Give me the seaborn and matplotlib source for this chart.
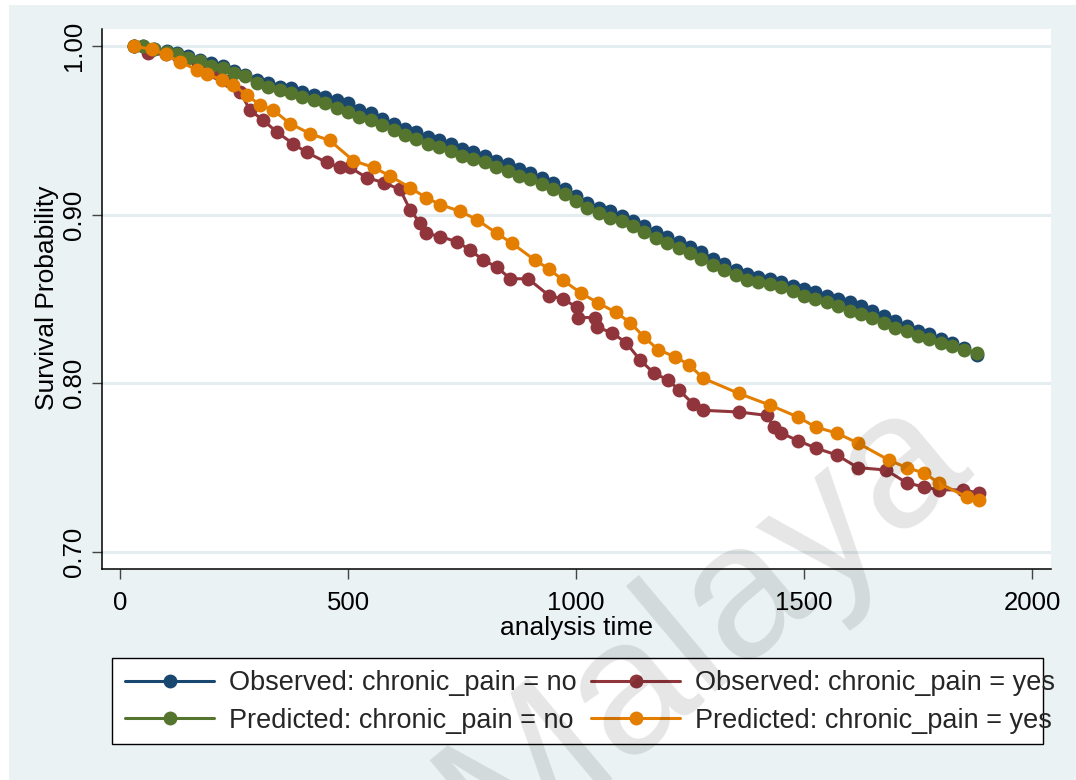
import numpy as np
import pandas as pd
import matplotlib
matplotlib.use("Agg")
import matplotlib.pyplot as plt
from matplotlib.lines import Line2D
from matplotlib.patches import Rectangle
import seaborn as sns

# ---------------- data ----------------
t_no = [30, 50, 75, 103, 125, 150, 175, 200, 225, 250, 275, 300, 325, 350, 375,
        400, 425, 450, 475, 500, 525, 550, 575, 600, 625, 650, 675, 700, 725, 750,
        775, 800, 825, 850, 875, 900, 925, 950, 975, 1000, 1025, 1050, 1075, 1100,
        1125, 1150, 1175, 1200, 1225, 1250, 1275, 1300, 1325, 1350, 1375, 1400,
        1425, 1450, 1475, 1500, 1525, 1550, 1575, 1600, 1625, 1650, 1675, 1700,
        1725, 1750, 1775, 1800, 1825, 1850, 1879]
obs_no = [1.000, 1.000, 0.998, 0.997, 0.996, 0.994, 0.992, 0.990, 0.988, 0.985,
          0.983, 0.980, 0.978, 0.976, 0.975, 0.973, 0.971, 0.970, 0.968, 0.966,
          0.962, 0.960, 0.957, 0.954, 0.951, 0.949, 0.946, 0.944, 0.942, 0.939,
          0.937, 0.935, 0.932, 0.930, 0.927, 0.925, 0.922, 0.919, 0.915, 0.911,
          0.907, 0.904, 0.902, 0.899, 0.896, 0.893, 0.890, 0.887, 0.884, 0.881,
          0.878, 0.874, 0.871, 0.867, 0.865, 0.863, 0.862, 0.860, 0.858, 0.856,
          0.854, 0.852, 0.850, 0.848, 0.846, 0.843, 0.840, 0.837, 0.834, 0.831,
          0.829, 0.826, 0.824, 0.821, 0.817]
pred_no = [1.000, 1.000, 0.998, 0.9966, 0.995, 0.993, 0.991, 0.988, 0.987, 0.984,
           0.982, 0.978, 0.976, 0.974, 0.972, 0.970, 0.968, 0.966, 0.963, 0.961,
           0.958, 0.956, 0.953, 0.950, 0.947, 0.945, 0.942, 0.940, 0.938, 0.935,
           0.933, 0.931, 0.928, 0.926, 0.923, 0.921, 0.918, 0.915, 0.912, 0.908,
           0.904, 0.901, 0.898, 0.896, 0.893, 0.890, 0.886, 0.883, 0.880, 0.877,
           0.874, 0.870, 0.867, 0.864, 0.861, 0.860, 0.859, 0.857, 0.855, 0.852,
           0.850, 0.848, 0.846, 0.843, 0.841, 0.839, 0.836, 0.833, 0.831, 0.828,
           0.826, 0.824, 0.822, 0.820, 0.818]

t_obs_yes = [30, 62, 100, 128, 170, 212, 240, 263, 285, 314, 344, 380, 409, 453,
             482, 504, 541, 578, 614, 636, 658, 672, 702, 739, 768, 797, 826, 856,
             895, 941, 972, 1002, 1005, 1041, 1045, 1079, 1110, 1140, 1171, 1202,
             1226, 1256, 1279, 1357, 1418, 1434, 1450, 1487, 1526, 1572, 1618,
             1680, 1725, 1764, 1795, 1849, 1883]
obs_yes = [1.000, 0.9958, 0.995, 0.994, 0.990, 0.984, 0.979, 0.973, 0.962, 0.956,
           0.949, 0.942, 0.937, 0.931, 0.928, 0.928, 0.922, 0.919, 0.915, 0.903,
           0.895, 0.889, 0.887, 0.884, 0.879, 0.873, 0.869, 0.862, 0.862, 0.852,
           0.850, 0.845, 0.839, 0.839, 0.8334, 0.830, 0.824, 0.814, 0.806, 0.802,
           0.796, 0.788, 0.784, 0.783, 0.781, 0.774, 0.7705, 0.766, 0.7616, 0.7575,
           0.750, 0.7486, 0.741, 0.7385, 0.7368, 0.7368, 0.735]

t_pred_yes = [30, 70, 100, 132, 168, 190, 223, 248, 278, 307, 336, 373, 417, 460,
              512, 556, 592, 636, 672, 702, 746, 783, 826, 860, 910, 940, 972, 1011,
              1049, 1088, 1119, 1149, 1180, 1218, 1248, 1279, 1357, 1426, 1487,
              1526, 1572, 1618, 1686, 1725, 1764, 1795, 1857, 1883]
pred_yes = [1.000, 0.998, 0.995, 0.9905, 0.986, 0.9834, 0.980, 0.977, 0.971, 0.965,
            0.962, 0.954, 0.948, 0.944, 0.932, 0.928, 0.923, 0.916, 0.910, 0.906,
            0.902, 0.897, 0.889, 0.883, 0.873, 0.868, 0.861, 0.8535, 0.8476, 0.842,
            0.836, 0.8275, 0.820, 0.8156, 0.811, 0.803, 0.794, 0.787, 0.780, 0.774,
            0.7705, 0.7646, 0.7545, 0.750, 0.7468, 0.741, 0.7326, 0.731]

series_labels = ["Observed: chronic_pain = no", "Observed: chronic_pain = yes",
                 "Predicted: chronic_pain = no", "Predicted: chronic_pain = yes"]
x_ticks = [0, 500, 1000, 1500, 2000]
y_ticks = [0.70, 0.80, 0.90, 1.00]
x_title = "analysis time"
y_title = "Survival Probability"
watermark = "Malaya"

# ---------------- style ----------------
sns.set_theme(style="white")
plt.rcParams["font.family"] = ["Liberation Sans", "DejaVu Sans"]

BG = "#EAF2F3"
colors = {series_labels[0]: "#1A476F", series_labels[1]: "#90353B",
          series_labels[2]: "#55752F", series_labels[3]: "#E37E00"}
MS = 10.0
LW = 2.2

W, H = 1076, 780
fig = plt.figure(figsize=(W / 100, H / 100), dpi=100, facecolor="white")
fig.patches.append(Rectangle((9 / W, 0), 1 - 9 / W, 1 - 5 / H,
                             transform=fig.transFigure, facecolor=BG,
                             edgecolor="none", zorder=-10))

ax = fig.add_axes([102 / W, 1 - 569 / H, (1051 - 102) / W, (569 - 29) / H])
ax.set_facecolor("white")

data = [
    (t_no, obs_no, series_labels[0]),
    (t_obs_yes, obs_yes, series_labels[1]),
    (t_no, pred_no, series_labels[2]),
    (t_pred_yes, pred_yes, series_labels[3]),
]
for tt, ss, lab in data:
    df = pd.DataFrame({"time": tt, "surv": ss})
    sns.lineplot(data=df, x="time", y="surv", ax=ax, color=colors[lab],
                 marker="o", markersize=MS, markeredgewidth=0, linewidth=LW,
                 sort=False, estimator=None, legend=False)

ax.set_xlim(-39.5, 2041.7)
ax.set_ylim(0.6899, 1.0101)
ax.set_xticks(x_ticks)
ax.set_xticklabels([str(v) for v in x_ticks])
ax.set_yticks(y_ticks)
ax.set_yticklabels([f"{v:.2f}" for v in y_ticks])
for yv in y_ticks:
    ax.axhline(yv, color="#E4EDEF", lw=2.2, zorder=0)

for s in ["top", "right"]:
    ax.spines[s].set_visible(False)
for s in ["left", "bottom"]:
    ax.spines[s].set_color("black")
    ax.spines[s].set_linewidth(1.1)

ax.tick_params(axis="both", which="major", direction="out", length=7.5,
               width=1.0, color="#444444", labelsize=18.5, labelcolor="black",
               left=True, bottom=True)
ax.tick_params(axis="y", pad=4)
ax.tick_params(axis="x", pad=8)
for lab in ax.get_yticklabels():
    lab.set_rotation(90)
    lab.set_va("center")
    lab.set_ha("right")

ax.set_xlabel(x_title, fontsize=19, labelpad=1, color="black")
ax.set_ylabel("")
fig.text(47 / W, 1 - 298 / H, y_title, rotation=90, ha="center", va="center",
         fontsize=19, color="black")

# legend box (text overflows the frame on the right, as in the reference)
fig.patches.append(Rectangle((112 / W, 1 - 744 / H), (1043 - 112) / W, (744 - 658) / H,
                             transform=fig.transFigure, facecolor="white",
                             edgecolor="black", linewidth=1.0, zorder=1))
handles = [Line2D([0], [0], color=colors[l], lw=LW, marker="o", markersize=MS,
                  markeredgewidth=0) for l in series_labels]
order = [0, 2, 1, 3]
leg = fig.legend([handles[i] for i in order], [series_labels[i] for i in order],
                 loc="center left", bbox_to_anchor=(125 / W, 1 - 702 / H), ncol=2,
                 frameon=False, fontsize=19.5, handlelength=3.3, handletextpad=0.55,
                 columnspacing=0.52, labelspacing=0.41, borderpad=0.0,
                 borderaxespad=0)

# watermark
fig.text(703 / W, 1 - 625 / H, watermark, rotation=40, ha="center", va="center",
         fontsize=138, color="black", alpha=0.1, zorder=100)

fig.savefig("out.png", dpi=100, facecolor=fig.get_facecolor())
